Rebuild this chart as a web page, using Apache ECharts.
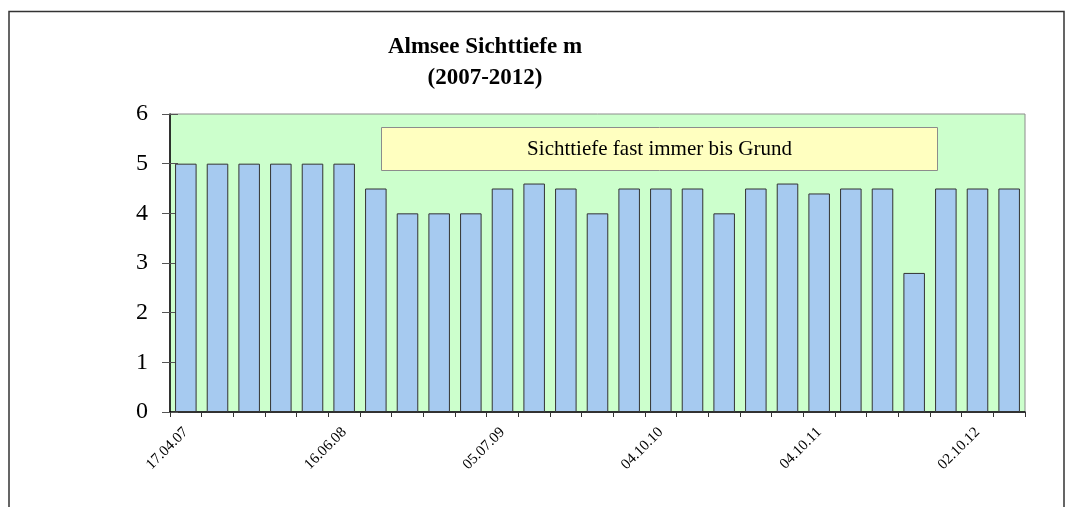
<!DOCTYPE html>
<html>
<head>
<meta charset="utf-8">
<script src="https://cdn.jsdelivr.net/npm/echarts@6/dist/echarts.min.js"></script>
<style>
  html, body { margin: 0; padding: 0; background: #ffffff; }
  #chart { width: 1068px; height: 507px; }
</style>
</head>
<body>
<div id="chart"></div>
<script>
// Sampling dates (only every fifth one is labelled on the axis)
const dateLabels = [
  '17.04.07', '', '', '', '',
  '16.06.08', '', '', '', '',
  '05.07.09', '', '', '', '',
  '04.10.10', '', '', '', '',
  '04.10.11', '', '', '', '',
  '02.10.12', ''
];

// Secchi depth in metres
const sichttiefe = [
  5, 5, 5, 5, 5, 5, 4.5, 4, 4, 4,
  4.5, 4.6, 4.5, 4, 4.5, 4.5, 4.5, 4, 4.5, 4.6,
  4.4, 4.5, 4.5, 2.8, 4.5, 4.5, 4.5
];

const yTicks = [0, 1, 2, 3, 4, 5, 6];

const serif = '"Liberation Serif", "DejaVu Serif", serif';

const chart = echarts.init(document.getElementById('chart'));

chart.setOption({
  animation: false,
  backgroundColor: '#ffffff',
  title: {
    text: 'Almsee Sichttiefe m\n(2007-2012)',
    left: 480,
    top: 27,
    textAlign: 'center',
    textStyle: {
      fontFamily: serif,
      fontWeight: 'bold',
      fontSize: 23,
      lineHeight: 31,
      color: '#000'
    }
  },
  grid: {
    left: 170,
    top: 114,
    right: 43,
    bottom: 95,
    show: true,
    backgroundColor: '#ccffcc',
    borderColor: '#8c8c8c',
    borderWidth: 1
  },
  xAxis: {
    type: 'category',
    data: dateLabels,
    boundaryGap: true,
    axisLine: { show: true, lineStyle: { color: '#000', width: 1.5 } },
    axisTick: { show: true, interval: 0, length: 5, lineStyle: { color: '#333' } },
    axisLabel: {
      interval: 0,
      rotate: 45,
      margin: 18,
      fontFamily: serif,
      fontSize: 15,
      color: '#000'
    },
    splitLine: { show: false }
  },
  yAxis: [
    {
      type: 'value',
      min: yTicks[0],
      max: yTicks[yTicks.length - 1],
      interval: 1,
      axisLine: { show: true, lineStyle: { color: '#000', width: 1.5 } },
      axisTick: { show: true, length: 8, lineStyle: { color: '#555' } },
      axisLabel: {
        margin: 22,
        fontFamily: serif,
        fontSize: 24,
        color: '#000'
      },
      splitLine: { show: false }
    },
    {
      // inner half of the cross ticks on the value axis
      type: 'value',
      position: 'left',
      min: yTicks[0],
      max: yTicks[yTicks.length - 1],
      interval: 1,
      axisLine: { show: false },
      axisTick: { show: true, inside: true, length: 8, lineStyle: { color: '#555' } },
      axisLabel: { show: false },
      splitLine: { show: false }
    }
  ],
  graphic: [
    {
      // outer chart frame
      type: 'rect',
      shape: { x: 9, y: 11.5, width: 1055, height: 520 },
      style: { fill: 'none', stroke: '#333', lineWidth: 1.5 },
      silent: true,
      z: 0
    },
    {
      type: 'group',
      left: 381,
      top: 127,
      z: 10,
      children: [
        {
          type: 'rect',
          shape: { x: 0, y: 0, width: 556, height: 43 },
          style: { fill: '#ffffc0', stroke: '#8c8c8c', lineWidth: 1 }
        },
        {
          type: 'text',
          x: 278,
          y: 22,
          style: {
            text: 'Sichttiefe fast immer bis Grund',
            fontFamily: serif,
            fontSize: 21,
            fill: '#000',
            align: 'center',
            verticalAlign: 'middle'
          }
        }
      ]
    }
  ],
  series: [
    {
      type: 'bar',
      data: sichttiefe,
      barCategoryGap: '32%',
      itemStyle: {
        color: '#a6caf0',
        borderColor: '#333',
        borderWidth: 1
      }
    }
  ]
});
</script>
</body>
</html>
